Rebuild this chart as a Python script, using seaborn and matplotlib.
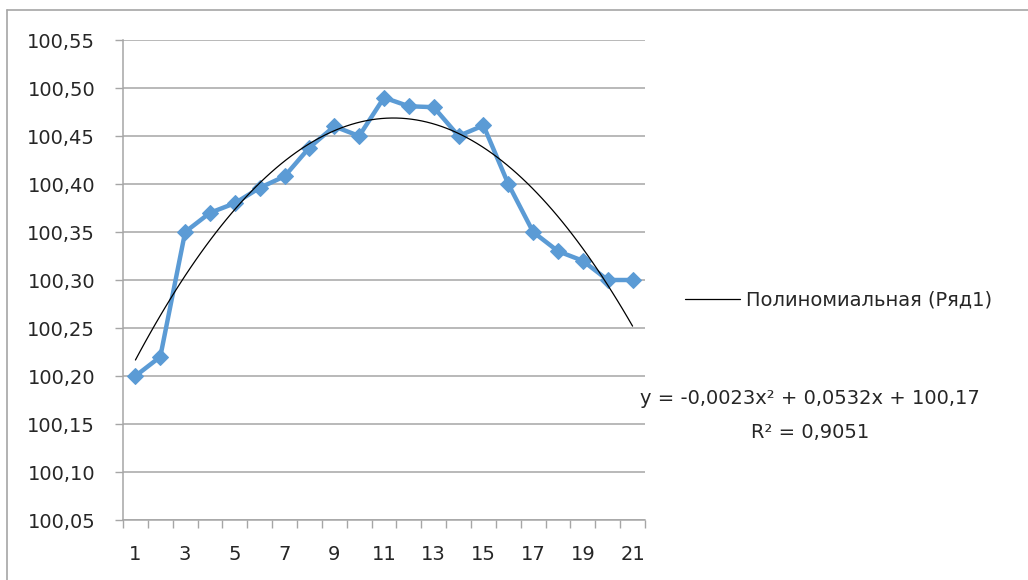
import numpy as np
import pandas as pd
import matplotlib
matplotlib.use("Agg")
import matplotlib.pyplot as plt
from matplotlib.lines import Line2D
import seaborn as sns

# Series values (Ряд1)
periods = list(range(1, 22))
values = [100.20, 100.22, 100.35, 100.37, 100.38, 100.396, 100.408, 100.438,
          100.46, 100.45, 100.49, 100.481, 100.48, 100.45, 100.461, 100.40,
          100.35, 100.33, 100.32, 100.30, 100.30]
y_ticks = [100.05, 100.10, 100.15, 100.20, 100.25, 100.30, 100.35, 100.40,
           100.45, 100.50, 100.55]
x_labels = [str(p) for p in periods[::2]]
trend_label = "Полиномиальная (Ряд1)"
equation_text = "y = -0,0023x² + 0,0532x + 100,17"
r2_text = "R² = 0,9051"

df = pd.DataFrame({"period": periods, "value": values})

sns.set_theme(style="white")
plt.rcParams["font.family"] = ["DejaVu Sans"]

FS = 14
TXT = "#262626"

fig = plt.figure(figsize=(10.28, 5.8), dpi=100)
ax = fig.add_axes([123 / 1028, 1 - 520 / 580, 522 / 1028, 480 / 580])

blue = "#5B9BD5"
sns.lineplot(data=df, x="period", y="value", ax=ax, color=blue, lw=3.2,
             marker="D", markersize=8.5, markeredgecolor=blue, zorder=3)
# Second-order polynomial trend line
sns.regplot(data=df, x="period", y="value", ax=ax, order=2, ci=None,
            scatter=False, truncate=True,
            line_kws=dict(color="black", lw=0.9, zorder=4))

ax.set_xlim(0.5, 21.5)
ax.set_ylim(100.05, 100.55)
ax.set_yticks(y_ticks)
ax.set_yticklabels([f"{v:.2f}".replace(".", ",") for v in y_ticks])
ax.set_xticks(periods[::2])
ax.set_xticklabels(x_labels)
ax.set_xticks(np.arange(0.5, 22, 1), minor=True)
ax.set_xlabel("")
ax.set_ylabel("")

ax.grid(axis="y", color="#a6a6a6", lw=1.1)
ax.set_axisbelow(True)
for side in ["top", "right"]:
    ax.spines[side].set_visible(False)
for side in ["left", "bottom"]:
    ax.spines[side].set_color("#a6a6a6")
    ax.spines[side].set_linewidth(1.1)

ax.tick_params(axis="y", which="major", left=True, length=6, width=1,
               color="#a6a6a6", labelsize=FS, labelcolor=TXT, pad=14)
ax.tick_params(axis="x", which="major", bottom=False, labelsize=FS,
               labelcolor=TXT, pad=12)
ax.tick_params(axis="x", which="minor", bottom=True, length=6, width=1,
               color="#a6a6a6")

# Legend with the trend line entry only
handle = Line2D([], [], color="black", lw=0.9)
fig.legend([handle], [trend_label], loc="center left",
           bbox_to_anchor=(685 / 1028, 1 - 300 / 580), frameon=False,
           fontsize=FS, handlelength=2.85, handletextpad=0.3,
           labelcolor=TXT, borderaxespad=0, borderpad=0)

fig.text(810 / 1028, 1 - 398 / 580, equation_text, ha="center", va="center",
         fontsize=FS, color=TXT)
fig.text(810 / 1028, 1 - 432 / 580, r2_text, ha="center", va="center",
         fontsize=FS, color=TXT)

# Chart area border
fig.add_artist(Line2D([7 / 1028, 1], [1 - 10 / 580, 1 - 10 / 580],
                      color="#a6a6a6", lw=1.2, transform=fig.transFigure))
fig.add_artist(Line2D([7 / 1028, 7 / 1028], [0, 1 - 10 / 580],
                      color="#a6a6a6", lw=1.2, transform=fig.transFigure))

fig.savefig("out.png", dpi=100, facecolor="white")
